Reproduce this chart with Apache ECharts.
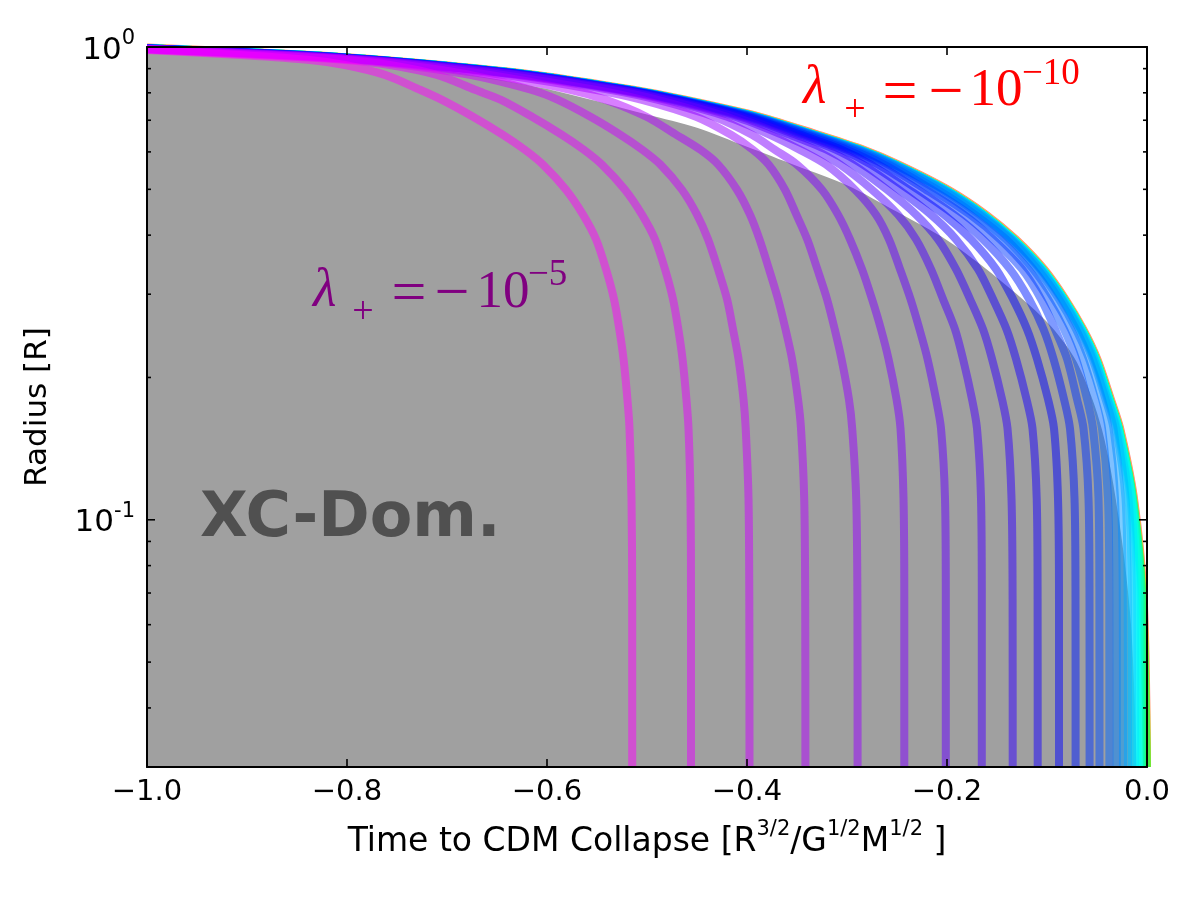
<!DOCTYPE html>
<html>
<head>
<meta charset="utf-8">
<script src="https://cdn.jsdelivr.net/npm/echarts@6/dist/echarts.min.js"></script>
<style>html,body{margin:0;padding:0;background:#fff}#chart{width:1200px;height:900px}</style>
</head>
<body>
<div id="chart"></div>
<script>
// ---------------- data ----------------
const xTickValues = [-1.0, -0.8, -0.6, -0.4, -0.2, 0.0];
const yMajorTicks = [1, 0.1];
const yMinorTicks = [0.04, 0.05, 0.06, 0.07, 0.08, 0.09, 0.2, 0.3, 0.4, 0.5, 0.6, 0.7, 0.8, 0.9];

// radius levels at which the collapse times of every curve were read
const radiusLevels = [0.962,0.939,0.916,0.873,0.812,0.773,0.712,0.652,0.606,0.564,0.499,0.442,0.392,0.339,0.293,0.253,0.219,0.18,0.156,0.111,0.068,0.03];

// colour index of each curve along the lambda sequence (1 = -1e-5 ... 51 = -1e-10)
const curveIndex = [1,2,3,4,5,6,7,8,9,10,11,12,13,14,15,16,17,18,19,20,21,22,23,24,27,33,41,51];
// radius of each curve at t = -1
const startRadius = [.986,.988,.989,.99,.991,.991,.992,.992,.992,.993,.993,.993,.993,.994,.994,.994,.994,.994,.994,.994,.994,.994,.994,.994,.994,.994,.996,.998];

// time to CDM collapse of each curve at the radius levels
const t01 = [-.907,-.837,-.802,-.762,-.727,-.705,-.674,-.644,-.622,-.604,-.581,-.564,-.551,-.541,-.533,-.5277,-.5235,-.5196,-.5175,-.5155,-.5148,-.5148];
const t02 = [-.887,-.801,-.757,-.71,-.672,-.646,-.615,-.585,-.563,-.545,-.522,-.505,-.492,-.482,-.474,-.4687,-.4645,-.4606,-.4585,-.4565,-.456,-.456];
const t03 = [-.875,-.792,-.742,-.677,-.616,-.589,-.5565,-.5265,-.5045,-.4865,-.465,-.45,-.439,-.429,-.42,-.414,-.4085,-.4035,-.4013,-.3985,-.3977,-.3975];
const t04 = [-.867,-.786,-.733,-.657,-.577,-.541,-.5006,-.4706,-.4465,-.4288,-.41,-.397,-.3875,-.378,-.369,-.3615,-.355,-.349,-.346,-.3428,-.3418,-.3416];
const t05 = [-.862,-.782,-.727,-.644,-.552,-.505,-.451,-.416,-.394,-.3784,-.362,-.3506,-.3398,-.3297,-.32,-.3123,-.3055,-.2981,-.2948,-.2908,-.2896,-.2894];
const t06 = [-.858,-.779,-.723,-.632,-.537,-.489,-.433,-.395,-.372,-.35,-.325,-.309,-.297,-.285,-.275,-.266,-.2585,-.2505,-.2465,-.2435,-.2427,-.2427];
const t07 = [-.855,-.777,-.72,-.628,-.53,-.481,-.42,-.377,-.347,-.321,-.292,-.271,-.258,-.247,-.2365,-.2275,-.2195,-.211,-.206,-.202,-.2012,-.2012];
const t08 = [-.853,-.775,-.718,-.625,-.527,-.477,-.412,-.365,-.332,-.307,-.275,-.249,-.231,-.216,-.204,-.192,-.184,-.175,-.17,-.166,-.1652,-.1652];
const t09 = [-.851,-.774,-.717,-.623,-.525,-.474,-.407,-.357,-.32,-.294,-.26,-.231,-.209,-.191,-.177,-.164,-.155,-.145,-.1395,-.1355,-.1344,-.1343];
const t10 = [-.85,-.773,-.716,-.622,-.524,-.472,-.403,-.351,-.311,-.284,-.248,-.216,-.191,-.169,-.154,-.1405,-.131,-.1205,-.1145,-.1103,-.1094,-.1093];
const t11 = [-.849,-.772,-.715,-.621,-.523,-.47,-.4,-.346,-.305,-.276,-.238,-.203,-.176,-.151,-.134,-.12,-.11,-.099,-.093,-.089,-.088,-.088];
const t12 = [-.848,-.771,-.714,-.62,-.522,-.469,-.3975,-.342,-.3,-.269,-.229,-.193,-.164,-.137,-.118,-.1035,-.0935,-.083,-.077,-.0725,-.0715,-.0714];
const t13 = [-.847,-.7705,-.713,-.619,-.521,-.468,-.3955,-.339,-.296,-.263,-.221,-.183,-.154,-.125,-.106,-.092,-.08,-.07,-.0635,-.0585,-.0575,-.0574];
const t14 = [-.846,-.77,-.712,-.618,-.52,-.467,-.394,-.3365,-.293,-.2585,-.215,-.177,-.147,-.119,-.099,-.083,-.071,-.06,-.054,-.0485,-.0476,-.0475];
const t15 = [-.845,-.7695,-.711,-.617,-.519,-.466,-.393,-.335,-.2905,-.2555,-.2095,-.172,-.141,-.114,-.093,-.076,-.064,-.052,-.045,-.039,-.0377,-.0376];
const t16 = [-.844,-.769,-.71,-.6165,-.5185,-.4655,-.392,-.3335,-.2885,-.253,-.205,-.1675,-.137,-.1095,-.088,-.071,-.058,-.045,-.0385,-.032,-.0303,-.0302];
const t17 = [-.841,-.7688,-.7098,-.6154,-.5184,-.465,-.3912,-.3333,-.2875,-.2525,-.203,-.165,-.1355,-.107,-.0855,-.068,-.0545,-.0415,-.0335,-.0262,-.0242,-.024];
const t18 = [-.8409,-.7687,-.7097,-.6153,-.5183,-.4649,-.3911,-.3331,-.2872,-.252,-.2025,-.1645,-.135,-.1062,-.0847,-.0668,-.053,-.0398,-.031,-.0215,-.0193,-.019];
const t19 = [-.8408,-.7686,-.7096,-.6152,-.5182,-.4648,-.391,-.333,-.287,-.2518,-.2022,-.1642,-.1345,-.1057,-.0842,-.0662,-.0523,-.039,-.0298,-.0185,-.0153,-.015];
const t20 = [-.8407,-.7685,-.7095,-.6151,-.5181,-.4647,-.3909,-.3328,-.2868,-.2516,-.202,-.1639,-.1342,-.1053,-.0838,-.0658,-.0518,-.0385,-.0292,-.0165,-.0123,-.012];
const t21 = [-.8406,-.7684,-.7094,-.615,-.518,-.4646,-.3908,-.3326,-.2867,-.2515,-.2018,-.1637,-.134,-.105,-.0835,-.0655,-.0515,-.038,-.0287,-.0155,-.0098,-.0095];
const t22 = [-.8405,-.7683,-.7093,-.6149,-.5179,-.4645,-.3906,-.3324,-.2866,-.2514,-.2016,-.1635,-.1337,-.1048,-.0833,-.0653,-.0513,-.0378,-.0284,-.0148,-.0078,-.0075];
const t23 = [-.8405,-.7682,-.7092,-.6148,-.5177,-.4643,-.3904,-.3322,-.2864,-.2512,-.2015,-.1633,-.1335,-.1047,-.0832,-.0652,-.0512,-.0376,-.0282,-.0144,-.0063,-.006];
const t24 = [-.8404,-.7681,-.7091,-.6147,-.5176,-.4642,-.3902,-.3321,-.2863,-.2511,-.2014,-.1632,-.1334,-.1046,-.0831,-.0651,-.0511,-.0375,-.0281,-.0142,-.0052,-.0047];
const t27 = [-.8406,-.7683,-.7093,-.6149,-.5178,-.4644,-.3905,-.3323,-.2865,-.2513,-.2016,-.1634,-.1336,-.1048,-.0833,-.0653,-.0513,-.0377,-.0283,-.0143,-.0046,-.0004];
const t33 = [-.8404,-.768,-.709,-.6145,-.5174,-.464,-.39,-.332,-.2862,-.251,-.2013,-.1631,-.1333,-.1045,-.083,-.065,-.051,-.0374,-.028,-.014,-.0043,0];
const t41 = [-.8385,-.766,-.707,-.6125,-.5155,-.4622,-.3883,-.3302,-.2847,-.2496,-.2,-.162,-.1323,-.1037,-.0823,-.0644,-.0504,-.0368,-.0274,-.0135,-.0038,0];
const t51 = [-.8365,-.764,-.705,-.6105,-.5136,-.4604,-.3866,-.3285,-.2832,-.2482,-.1987,-.1609,-.1313,-.1029,-.0816,-.0638,-.0498,-.0362,-.0268,-.013,-.0033,0];
const curveTimes = [t01,t02,t03,t04,t05,t06,t07,t08,t09,t10,t11,t12,t13,t14,t15,t16,t17,t18,t19,t20,t21,t22,t23,t24,t27,t33,t41,t51];

// upper edge of the grey "XC-dominated" region: [time, radius]
const xcBoundary = [[-1,.99],[-.8,.945],[-.7,.89],[-.6,.815],[-.5,.72],[-.45,.675],[-.4,.615],[-.35,.56],[-.3,.51],[-.25,.448],[-.2,.39],[-.15,.325],[-.1,.262],[-.07,.215],[-.045,.155],[-.028,.1],[-.016,.06],[-.01,.03]];

// ---------------- styling helpers ----------------
const RAINBOW = [[0,[1,0,.16]],[.03,[1,0,0]],[.215,[1,1,0]],[.4,[0,1,0]],[.586,[0,1,1]],[.77,[0,0,1]],[.954,[1,0,1]],[1,[1,0,.75]]];
function rainbow(v){
  for (let k=1;k<RAINBOW.length;k++){
    const [v1,c1]=RAINBOW[k-1],[v2,c2]=RAINBOW[k];
    if (v<=v2){const f=(v-v1)/(v2-v1);const c=c1.map((a,j)=>Math.round(255*(a+(c2[j]-a)*f)));return 'rgba('+c[0]+','+c[1]+','+c[2]+',0.5)';}
  }
  return 'rgba(255,0,191,0.5)';
}
function colorFor(idx){ return rainbow(0.954 - (idx-1)*0.0185); }

const series = [];
series.push({
  type:'line', data: xcBoundary, showSymbol:false, silent:true, z:1, smooth:0.3,
  lineStyle:{width:0}, areaStyle:{color:'#a0a0a0', opacity:1, origin:'start'}, animation:false
});
for (let k=curveTimes.length-1;k>=0;k--){
  const pts = [[-1, startRadius[k]]].concat(curveTimes[k].map((t,i)=>[t, radiusLevels[i]]));
  series.push({
    type:'line', data: pts, showSymbol:false, silent:true, z:2,
    smooth:0.3,
    lineStyle:{width:8, color: colorFor(curveIndex[k]), cap:'butt', join:'round'},
    animation:false
  });
}
// minor + right-side ticks of the log axis
series.push({
  type:'custom', silent:true, z:30, clip:false,
  data: yMinorTicks.map(v=>[-1,v,4]).concat(yMajorTicks.map(v=>[-1,v,8])),
  renderItem: function(params, api){
    const r = api.value(1), len = api.value(2);
    const pL = api.coord([-1, r]), pR = api.coord([0, r]);
    return {type:'group', children:[
      {type:'line', shape:{x1:pL[0], y1:pL[1], x2:pL[0]+len, y2:pL[1]}, style:{stroke:'#000', lineWidth:1.6}},
      {type:'line', shape:{x1:pR[0]-len, y1:pR[1], x2:pR[0], y2:pR[1]}, style:{stroke:'#000', lineWidth:1.6}}
    ]};
  }
});

const FONT = 'DejaVu Sans';
const chart = echarts.init(document.getElementById('chart'), null, {renderer:'canvas'});
chart.setOption({
  animation:false,
  backgroundColor:'#ffffff',
  grid:{left:147, right:53, top:47, bottom:133, containLabel:false},
  xAxis:[{
    type:'value', min:-1, max:0, interval:0.2, position:'bottom', z:20,
    axisLine:{show:true, onZero:false, lineStyle:{color:'#000', width:2}},
    axisTick:{show:true, inside:true, length:8, lineStyle:{color:'#000', width:1.6}},
    splitLine:{show:false},
    axisLabel:{show:true, margin:11, fontSize:29, fontFamily:FONT, color:'#000',
      formatter: v => (v < -1e-9 ? '\u2212' : '') + Math.abs(v).toFixed(1)},
    name:'{n|Time to CDM Collapse [R}{s|3/2}{n|/G}{s|1/2}{n|M}{s|1/2}{n| ]}',
    nameLocation:'middle', nameGap:52,
    nameTextStyle:{fontFamily:FONT, color:'#000', rich:{
      n:{fontSize:33, fontFamily:FONT, color:'#000', lineHeight:40, verticalAlign:'bottom'},
      s:{fontSize:21, fontFamily:FONT, color:'#000', lineHeight:24, verticalAlign:'top'}
    }}
  },{
    type:'value', min:-1, max:0, interval:0.2, position:'top', z:20,
    axisLine:{show:true, onZero:false, lineStyle:{color:'#000', width:2}},
    axisTick:{show:true, inside:true, length:8, lineStyle:{color:'#000', width:1.6}},
    splitLine:{show:false}, axisLabel:{show:false}
  }],
  yAxis:[{
    type:'log', logBase:10, min:0.03, max:1, position:'left', z:20,
    axisLine:{show:true, onZero:false, lineStyle:{color:'#000', width:2}},
    axisTick:{show:false},
    splitLine:{show:false}, minorTick:{show:false},
    axisLabel:{show:true, margin:12, color:'#000', fontFamily:FONT,
      formatter: function(v){
        const e = Math.round(Math.log10(v));
        if (Math.abs(Math.log10(v) - e) > 1e-6) return '';
        return '{b|10}{s|' + (e < 0 ? '-' : '') + Math.abs(e) + '}';
      },
      rich:{
        b:{fontSize:31, fontFamily:FONT, color:'#000', lineHeight:38, verticalAlign:'bottom'},
        s:{fontSize:21, fontFamily:FONT, color:'#000', lineHeight:22, verticalAlign:'top'}
      }},
    name:'Radius [R]', nameLocation:'middle', nameGap:94, nameRotate:90,
    nameTextStyle:{fontSize:31, fontFamily:FONT, color:'#000'}
  },{
    type:'log', logBase:10, min:0.03, max:1, position:'right', z:20,
    axisLine:{show:true, onZero:false, lineStyle:{color:'#000', width:2}},
    axisTick:{show:false}, axisLabel:{show:false}, splitLine:{show:false}
  }],
  series: series,
  graphic:[
    {type:'text', z:50, x:200, y:520, style:{text:'XC-Dom.', fill:'#505050', font:'bold 62px "DejaVu Sans"', align:'left', verticalAlign:'middle'}},
    // purple label  λ+ = −10^−5
    {type:'text', z:50, x:313, y:292, style:{text:'\u03bb', fill:'#800080', font:'italic 54px "Liberation Serif"', align:'left', verticalAlign:'middle'}},
    {type:'text', z:50, x:363, y:313, style:{text:'+', fill:'#800080', font:'38px "Liberation Serif"', align:'center', verticalAlign:'middle'}},
    {type:'text', z:50, x:409, y:296, style:{text:'=', fill:'#800080', font:'62px "Liberation Serif"', align:'center', verticalAlign:'middle'}},
    {type:'text', z:50, x:452, y:296, style:{text:'\u2212', fill:'#800080', font:'62px "Liberation Serif"', align:'center', verticalAlign:'middle'}},
    {type:'text', z:50, x:503, y:293, style:{text:'10', fill:'#800080', font:'53px "Liberation Serif"', align:'center', verticalAlign:'middle'}},
    {type:'text', z:50, x:528, y:275, style:{text:'\u22125', fill:'#800080', font:'37px "Liberation Serif"', align:'left', verticalAlign:'middle'}},
    // red label  λ+ = −10^−10
    {type:'text', z:50, x:803, y:89, style:{text:'\u03bb', fill:'#ff0000', font:'italic 54px "Liberation Serif"', align:'left', verticalAlign:'middle'}},
    {type:'text', z:50, x:855, y:111, style:{text:'+', fill:'#ff0000', font:'38px "Liberation Serif"', align:'center', verticalAlign:'middle'}},
    {type:'text', z:50, x:900, y:95, style:{text:'=', fill:'#ff0000', font:'62px "Liberation Serif"', align:'center', verticalAlign:'middle'}},
    {type:'text', z:50, x:946, y:95, style:{text:'\u2212', fill:'#ff0000', font:'62px "Liberation Serif"', align:'center', verticalAlign:'middle'}},
    {type:'text', z:50, x:996, y:91, style:{text:'10', fill:'#ff0000', font:'53px "Liberation Serif"', align:'center', verticalAlign:'middle'}},
    {type:'text', z:50, x:1022, y:74, style:{text:'\u221210', fill:'#ff0000', font:'37px "Liberation Serif"', align:'left', verticalAlign:'middle'}}
  ]
});
</script>
</body>
</html>
